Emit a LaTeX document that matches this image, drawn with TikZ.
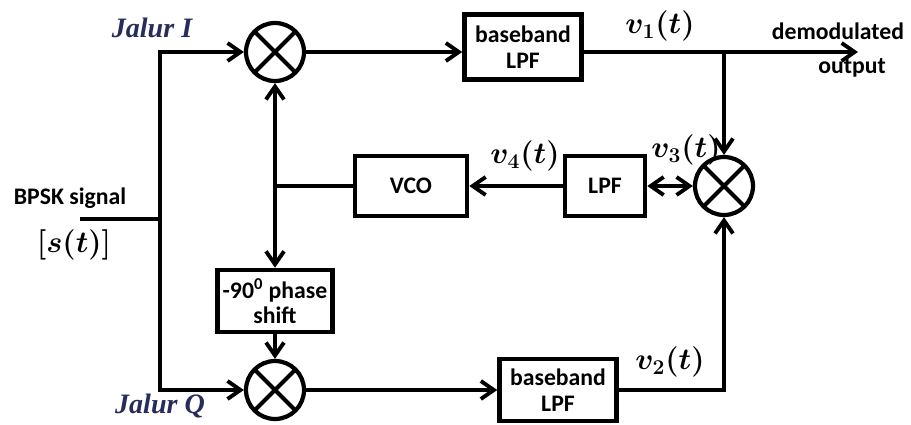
\documentclass[tikz,border=0pt]{standalone}
\usepackage{fontspec}
\setmainfont{Carlito}
\newfontfamily\jalurfont{Liberation Serif}
\usepackage{xcolor}
\usetikzlibrary{arrows.meta,positioning}
\definecolor{jalurblue}{RGB}{38,44,92}

\begin{document}
\begin{tikzpicture}[x=0.02cm, y=-0.02cm, line width=2.2pt,
      blk/.style={draw, line width=2.6pt, inner sep=1pt, align=center,
      font=\fontsize{13.5}{14.5}\selectfont\bfseries},
      mix/.style={draw, circle, line width=2.4pt, minimum size=1.16cm, inner sep=0pt,
      path picture={\draw[line width=2.4pt]
        (path picture bounding box.north west) -- (path picture bounding box.south east)
        (path picture bounding box.north east) -- (path picture bounding box.south west);}},
      lbl/.style={font=\fontsize{13.5}{14.5}\selectfont\bfseries, align=center},
      sig/.style={font=\fontsize{17}{19}\selectfont\boldmath},
      jal/.style={font=\fontsize{16}{18}\selectfont\jalurfont\bfseries\itshape, text=jalurblue},
      >={Straight Barb[length=2.6mm,width=3.6mm]}]
    \useasboundingbox (0,0) rectangle (911,425);
    % mixers and blocks
    \node[mix] (mI) at (275,52) {};
    \node[mix] (mQ) at (275,390) {};
    \node[mix] (m3) at (724,186) {};
    \node[blk, minimum width=2.34cm, minimum height=1.3cm] (lpfI) at (523,47) {baseband\\LPF};
    \node[blk, minimum width=2.34cm, minimum height=1.24cm] (lpfQ) at (558,390) {baseband\\LPF};
    \node[blk, minimum width=1.6cm, minimum height=1.2cm] (lpf) at (605,186) {LPF};
    \node[blk, minimum width=2.24cm, minimum height=1.2cm] (vco) at (411,186) {VCO};
    \node[blk, minimum width=2.3cm, minimum height=1.24cm] (ph) at (275,301) {-90\textsuperscript{0} phase\\shift};
    \coordinate (src) at (80,219);
    \coordinate (split) at (160,219);
    \coordinate (tap) at (724,52);
    \coordinate (out) at (858,52);
    % labels
    \node[jal] (jalI) at (152,28) {Jalur I};
    \node[jal] (jalQ) at (160,406) {Jalur Q};
    \node[lbl] (bpsk) at (70,198) {BPSK signal};
    \node[sig] (st) at (74,245) {$[s(t)]$};
    \node[sig] (v1) at (660,26) {$v_1(t)$};
    \node[sig] (v2) at (670,362) {$v_2(t)$};
    \node[sig] (v3) at (686,150) {$v_3(t)$};
    \node[sig] (v4) at (525,156) {$v_4(t)$};
    \node[lbl] (demod) at (838,31) {demodulated};
    \node[lbl] (outp) at (852,68) {output};
    % connectors
    \draw (src) -- (split);
    \draw[->] (split) |- (mI.west);
    \draw[->] (split) |- (mQ.west);
    \draw[->] (mI.east) -- (mI.east -| lpfI.west);
    \draw[->] (lpfI.east |- mI.east) -- (out);
    \draw[->] (tap) -- (m3.north);
    \draw[<->] (lpf.east) -- (m3.west);
    \draw[->] (lpf.west) -- (vco.east);
    \draw (vco.west) -- (vco.west -| mI.south);
    \draw[<->] (mI.south) -- (ph.north);
    \draw[->] (ph.south) -- (mQ.north);
    \draw[->] (mQ.east) -- (lpfQ.west);
    \draw[->] (lpfQ.east) -| (m3.south);
  \end{tikzpicture}
\end{document}
